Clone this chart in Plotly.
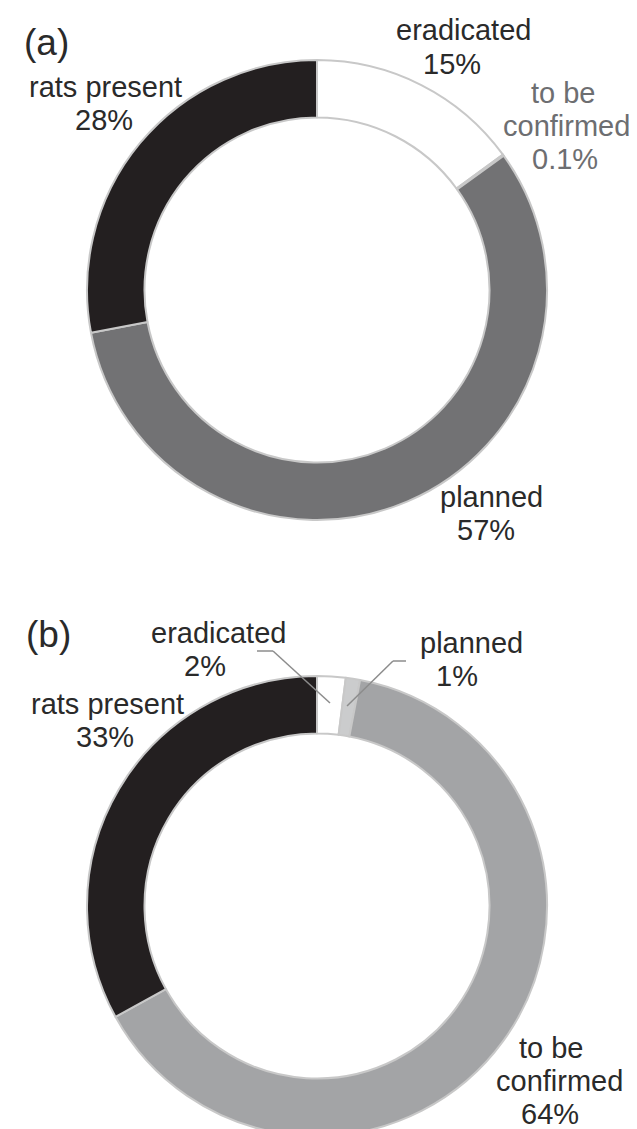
import plotly.graph_objects as go

W, H = 637, 1129

# ---- data ----
labels_a = ["eradicated", "to be confirmed", "planned", "rats present"]
values_a = [15, 0.1, 57, 28]
colors_a = ["#ffffff", "#a3a4a6", "#727274", "#231f20"]

labels_b = ["eradicated", "planned", "to be confirmed", "rats present"]
values_b = [2, 1, 64, 33]
colors_b = ["#ffffff", "#cbcccd", "#a3a4a6", "#231f20"]

pct_a = ["15%", "0.1%", "57%", "28%"]
pct_b = ["2%", "1%", "64%", "33%"]

TXT = "#2a2a2a"
GRAY_TXT = "#6d6e71"
FONT = "Liberation Sans, Arial, sans-serif"
FS = 29


def px(x, y):
    return x / W, 1 - y / H


fig = go.Figure()

fig.add_trace(go.Pie(
    labels=labels_a, values=values_a, sort=False, direction="clockwise",
    rotation=0, hole=0.75, textinfo="none", hoverinfo="label+percent",
    marker=dict(colors=colors_a, line=dict(color="#c8c8c8", width=2)),
    domain=dict(x=[79 / W, 539 / W], y=[1 - 512 / H, 1 - 52 / H]),
    showlegend=False,
))
fig.add_trace(go.Pie(
    labels=labels_b, values=values_b, sort=False, direction="clockwise",
    rotation=0, hole=0.75, textinfo="none", hoverinfo="label+percent",
    marker=dict(colors=colors_b, line=dict(color="#c8c8c8", width=2)),
    domain=dict(x=[79 / W, 539 / W], y=[1 - 1128 / H, 1 - 668 / H]),
    showlegend=False,
))

# text lines: (text, cx, cy, color, size)
lines = [
    ("(a)", 38, 34, TXT, 37),
    (labels_a[0], 455, 22, TXT, FS),
    (pct_a[0], 444, 56, TXT, FS),
    ("to be", 555, 85, GRAY_TXT, FS),
    ("confirmed", 558, 118, GRAY_TXT, FS),
    (pct_a[1], 557, 151, GRAY_TXT, FS),
    (labels_a[3], 97, 79, TXT, FS),
    (pct_a[3], 96, 112, TXT, FS),
    (labels_a[2], 483, 489, TXT, FS),
    (pct_a[2], 478, 522, TXT, FS),
    ("(b)", 40, 626, TXT, 37),
    (labels_b[0], 210, 625, TXT, FS),
    (pct_b[0], 197, 658, TXT, FS),
    (labels_b[1], 463, 635, TXT, FS),
    (pct_b[1], 449, 668, TXT, FS),
    (labels_b[3], 99, 696, TXT, FS),
    (pct_b[3], 97, 729, TXT, FS),
    ("to be", 543, 1040, TXT, FS),
    ("confirmed", 551, 1073, TXT, FS),
    (pct_b[2], 542, 1106, TXT, FS),
]
anns = []
for t, cx, cy, col, sz in lines:
    x, y = px(cx, cy)
    anns.append(dict(text=t, x=x, y=y, xref="paper", yref="paper",
                     xanchor="center", yanchor="middle", showarrow=False,
                     borderpad=0,
                     font=dict(family=FONT, size=sz, color=col)))

# leader lines for small slices in (b)
shapes = []
for pts in ([(249, 643), (265, 643), (322, 695)],
            [(398, 653), (385, 653), (339, 698)]):
    for (x0, y0), (x1, y1) in zip(pts[:-1], pts[1:]):
        a0, b0 = px(x0, y0)
        a1, b1 = px(x1, y1)
        shapes.append(dict(type="line", xref="paper", yref="paper",
                           x0=a0, y0=b0, x1=a1, y1=b1,
                           line=dict(color="#8c8c8c", width=1.5)))

fig.update_layout(
    width=W, height=H, margin=dict(l=0, r=0, t=0, b=0),
    paper_bgcolor="white", plot_bgcolor="white",
    annotations=anns, shapes=shapes,
)

fig.write_html("out.html")
